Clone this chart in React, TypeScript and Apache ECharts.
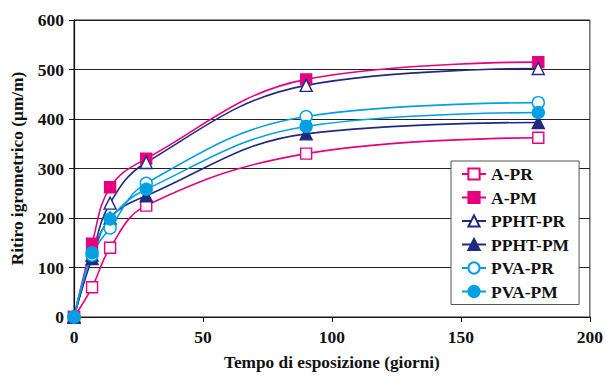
import React, { useEffect, useRef } from "react";
import * as echarts from "echarts";

// Exposure days at which shrinkage was measured
const days = [0, 7, 14, 28, 90, 180];

// Shrinkage (µm/m) for each mix
const aPR = [0, 60, 140, 225, 330, 362];
const aPM = [0, 148, 262, 320, 480, 515];
const pphtPR = [0, 125, 230, 312, 468, 502];
const pphtPM = [0, 118, 200, 245, 370, 393];
const pvaPR = [0, 125, 180, 270, 405, 433];
const pvaPM = [0, 130, 198, 258, 385, 413];

const PINK = "#E6007E";
const NAVY = "#1F2A80";
const CYAN = "#00A0E3";
const FONT = "'Times New Roman', 'Liberation Serif', serif";

function makeSeries(
  name: string,
  values: number[],
  color: string,
  symbol: string,
  filled: boolean
) {
  return {
    name,
    type: "line",
    smooth: 0.4,
    data: days.map((d, i) => [d, values[i]]),
    symbol,
    symbolSize: symbol === "rect" ? 11 : 12,
    lineStyle: { color, width: 1.6 },
    itemStyle: {
      color: filled ? color : "#ffffff",
      borderColor: color,
      borderWidth: 1.4,
    },
    emphasis: { disabled: true },
  };
}

export default function App() {
  const ref = useRef<HTMLDivElement>(null);

  useEffect(() => {
    if (!ref.current) return;
    const chart = echarts.init(ref.current, null, { renderer: "svg" });
    const text = { fontFamily: FONT, fontWeight: "bold", fontSize: 17.5, color: "#111" };
    chart.setOption({
      animation: false,
      backgroundColor: "#ffffff",
      grid: { left: 74, right: 13, top: 20, bottom: 56, show: true, borderColor: "#222", borderWidth: 1 },
      legend: {
        orient: "vertical",
        left: 451,
        top: 161,
        padding: [4, 10, 4, 10],
        itemWidth: 24,
        itemHeight: 14,
        itemGap: 5.5,
        backgroundColor: "#ffffff",
        borderColor: "#555",
        borderWidth: 1,
        textStyle: { ...text },
        data: ["A-PR", "A-PM", "PPHT-PR", "PPHT-PM", "PVA-PR", "PVA-PM"],
      },
      xAxis: {
        type: "value",
        min: 0,
        max: 200,
        interval: 50,
        name: "Tempo di esposizione (giorni)",
        nameLocation: "middle",
        nameGap: 37,
        nameTextStyle: { ...text, fontSize: 17.3 },
        axisLine: { lineStyle: { color: "#111", width: 1.2 } },
        axisTick: { show: true, inside: false, length: 5, lineStyle: { color: "#111" } },
        axisLabel: { ...text, margin: 11 },
        splitLine: { show: false },
      },
      yAxis: {
        type: "value",
        min: 0,
        max: 600,
        interval: 100,
        name: "Ritiro igrometrico (µm/m)",
        nameLocation: "middle",
        nameGap: 48,
        nameRotate: 90,
        nameTextStyle: { ...text, fontSize: 17.3 },
        axisLine: { show: true, lineStyle: { color: "#111", width: 1.2 } },
        axisTick: { show: true, inside: false, length: 5, lineStyle: { color: "#111" } },
        axisLabel: { ...text, margin: 10 },
        splitLine: { show: true, lineStyle: { color: "#222", width: 1 } },
      },
      series: [
        makeSeries("A-PR", aPR, PINK, "rect", false),
        makeSeries("A-PM", aPM, PINK, "rect", true),
        makeSeries("PPHT-PR", pphtPR, NAVY, "triangle", false),
        makeSeries("PPHT-PM", pphtPM, NAVY, "triangle", true),
        makeSeries("PVA-PR", pvaPR, CYAN, "circle", false),
        makeSeries("PVA-PM", pvaPM, CYAN, "circle", true),
      ],
    });
    return () => chart.dispose();
  }, []);

  return <div ref={ref} style={{ width: 606, height: 376, position: "absolute", left: 0, top: 0 }} />;
}
